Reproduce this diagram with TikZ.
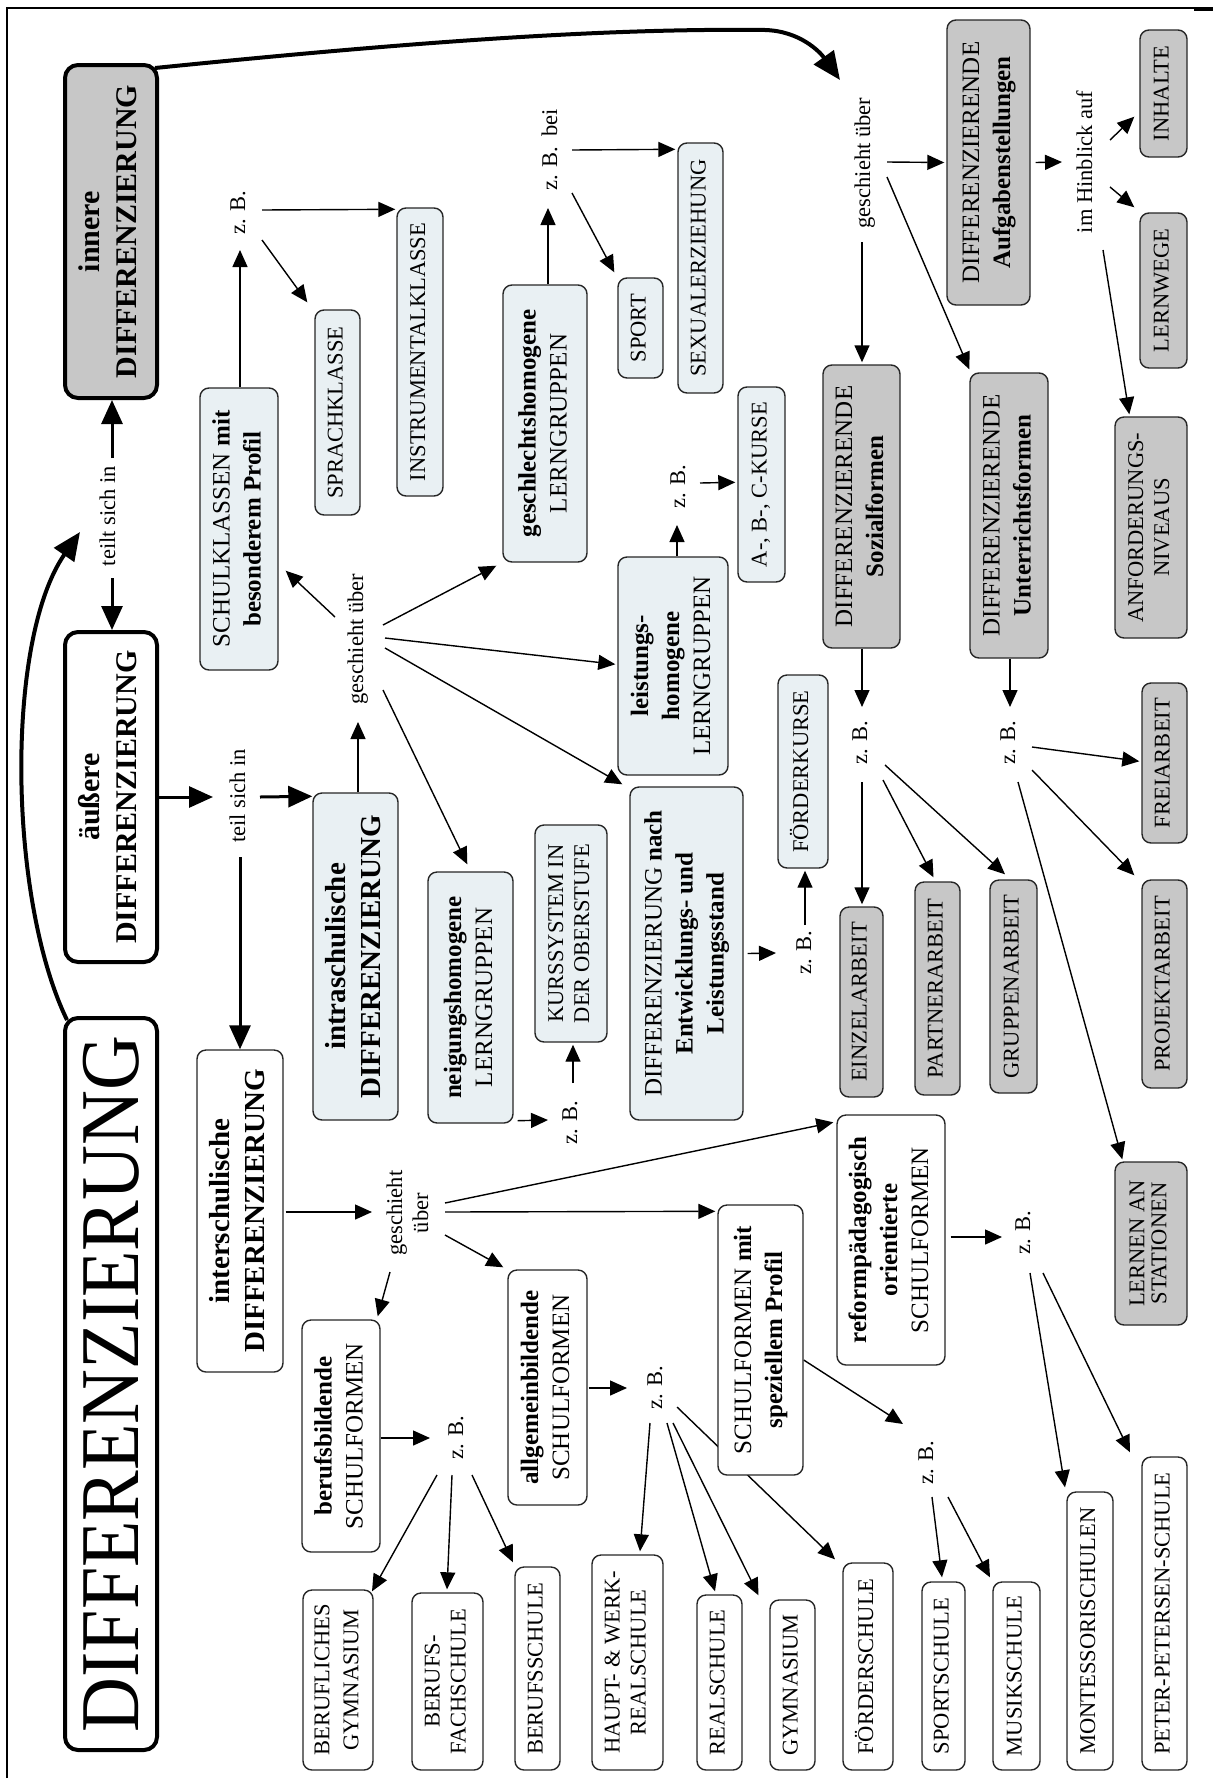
\documentclass[tikz,border=0pt]{standalone}
\usepackage{fontspec}
\setmainfont{Liberation Serif}
\usepackage{graphicx}
\usetikzlibrary{arrows.meta}
\definecolor{boxgray}{RGB}{199,199,199}
\definecolor{boxblue}{RGB}{233,240,243}
% text set upright (reading bottom to top), several centred lines
\newcommand{\uptext}[1]{\rotatebox{90}{\begin{tabular}{@{}c@{}}#1\end{tabular}}}
\pgfdeclarelayer{bg}
\pgfsetlayers{bg,main}

\begin{document}
\begin{tikzpicture}[x=1pt,y=-1pt,
  sz/.style 2 args={minimum width=#1pt,minimum height=#2pt},
  box/.style={draw=black!85, line width=1.4pt, rounded corners=9pt, inner sep=0pt},
  wbox/.style={box, fill=white},
  gbox/.style={box, fill=boxgray},
  bbox/.style={box, fill=boxblue},
  mainbox/.style={draw, line width=4pt, rounded corners=13pt, inner sep=0pt},
  fleaf/.style={font=\fontsize{22.5}{26}\selectfont},
  fmid/.style={font=\fontsize{25}{31}\selectfont},
  fbig/.style={font=\fontsize{29}{35}\selectfont\bfseries},
  fhead/.style={font=\fontsize{30}{37}\selectfont\bfseries},
  lab/.style={inner sep=0pt, font=\fontsize{22.5}{26}\selectfont},
  arr/.style={line width=1.4pt, -{Triangle[length=17pt,width=15pt]}},
  tarr/.style={line width=3pt, -{Triangle[length=24pt,width=21pt]}},
  carr/.style={line width=4pt, -{Triangle[length=28pt,width=24pt]}},
]
\useasboundingbox (0,0) rectangle (1213,1780);

% frame
\draw[line width=1.5pt] (7,1778) -- (7,8) -- (1213,8);
\draw[line width=3pt] (1194,9) -- (1213,9);

% ---------- main column ----------
\node[mainbox, fill=boxgray, sz={92}{333}, fhead] (innere) at (111,231.5) {\uptext{innere\\DIFFERENZIERUNG}};
\node[mainbox, fill=white, sz={92}{330}, fhead] (aeuss) at (111,797) {\uptext{äußere\\DIFFERENZIERUNG}};
\node[mainbox, fill=white, sz={92}{732}, font=\fontsize{76}{80}\selectfont] (dmain) at (111,1384) {\rotatebox{90}{\scalebox{1}[1.1]{DIFFERENZIERUNG}}};

% ---------- intra-school branch ----------
\node[bbox, sz={85}{327}, fbig] (intra) at (355.5,956.5) {\uptext{intraschulische\\DIFFERENZIERUNG}};
\node[bbox, sz={78}{282}, fmid] (sk) at (239,529) {\uptext{SCHULKLASSEN \textbf{mit}\\\textbf{besonderem Profil}}};
\node[bbox, sz={45}{205}, fleaf] (sprach) at (337.5,412.5) {\uptext{SPRACHKLASSE}};
\node[bbox, sz={46}{288}, fleaf] (instr) at (420,352) {\uptext{INSTRUMENTALKLASSE}};
\node[bbox, sz={84}{277}, fmid] (geschl) at (545,423.5) {\uptext{\textbf{geschlechtshomogene}\\LERNGRUPPEN}};
\node[bbox, sz={45}{100}, fleaf] (sport) at (640.5,328) {\uptext{SPORT}};
\node[bbox, sz={45}{250}, fleaf] (sexual) at (700.5,268) {\uptext{SEXUALERZIEHUNG}};
\node[bbox, sz={47}{195}, fleaf] (abc) at (761.5,484.5) {\uptext{A-, B-, C-KURSE}};
\node[bbox, sz={110}{218}, fmid] (leist) at (673,666) {\uptext{\textbf{leistungs-}\\\textbf{homogene}\\LERNGRUPPEN}};
\node[bbox, sz={50}{193}, fleaf] (foerdk) at (803,771.5) {\uptext{FÖRDERKURSE}};
\node[bbox, sz={113}{333}, fmid] (diffnach) at (686.5,953.5) {\uptext{DIFFERENZIERUNG \textbf{nach}\\\textbf{Entwicklungs- und}\\\textbf{Leistungsstand}}};
\node[bbox, sz={72}{217}, fleaf] (kurs) at (571,933.5) {\uptext{KURSSYSTEM IN\\DER OBERSTUFE}};
\node[bbox, sz={85}{251}, fmid] (neig) at (470.5,997.5) {\uptext{\textbf{neigungshomogene}\\LERNGRUPPEN}};

% ---------- inner differentiation ----------
\node[gbox, sz={83}{285}, fmid] (aufg) at (988.5,162.5) {\uptext{DIFFERENZIERENDE\\\textbf{Aufgabenstellungen}}};
\node[gbox, sz={47}{127}, fleaf] (inhalte) at (1163.5,93.5) {\uptext{INHALTE}};
\node[gbox, sz={47}{155}, fleaf] (lernw) at (1163.5,290.5) {\uptext{LERNWEGE}};
\node[gbox, sz={72}{221}, fleaf] (anford) at (1151,527.5) {\uptext{ANFORDERUNGS-\\NIVEAUS}};
\node[gbox, sz={77}{283}, fmid] (soz) at (861.5,506.5) {\uptext{DIFFERENZIERENDE\\\textbf{Sozialformen}}};
\node[gbox, sz={78}{285}, fmid] (unt) at (1009,515.5) {\uptext{DIFFERENZIERENDE\\\textbf{Unterrichtsformen}}};
\node[gbox, sz={45}{160}, fleaf] (frei) at (1164.5,763) {\uptext{FREIARBEIT}};
\node[gbox, sz={43}{190}, fleaf] (einzel) at (861.5,1002) {\uptext{EINZELARBEIT}};
\node[gbox, sz={45}{213}, fleaf] (partner) at (937.5,988.5) {\uptext{PARTNERARBEIT}};
\node[gbox, sz={47}{213}, fleaf] (gruppen) at (1013.5,986.5) {\uptext{GRUPPENARBEIT}};
\node[gbox, sz={45}{208}, fleaf] (projekt) at (1164.5,984) {\uptext{PROJEKTARBEIT}};
\node[gbox, sz={72}{163}, font=\fontsize{22.5}{22}\selectfont] (station) at (1151,1243.5) {\uptext{LERNEN AN\\STATIONEN}};

% ---------- inter-school branch ----------
\node[wbox, sz={86}{322}, fbig] (inter) at (240,1211) {\uptext{interschulische\\DIFFERENZIERUNG}};
\node[wbox, sz={78}{232}, fmid] (berufsb) at (341,1436) {\uptext{\textbf{berufsbildende}\\SCHULFORMEN}};
\node[wbox, sz={79}{235}, fmid] (allg) at (547.5,1387.5) {\uptext{\textbf{allgemeinbildende}\\SCHULFORMEN}};
\node[wbox, sz={85}{270}, fmid] (spez) at (760.5,1340) {\uptext{SCHULFORMEN \textbf{mit}\\\textbf{speziellem Profil}}};
\node[wbox, sz={108}{250}, fmid] (reform) at (891,1240) {\uptext{\textbf{reformpädagogisch}\\\textbf{orientierte}\\SCHULFORMEN}};
\node[wbox, sz={70}{180}, font=\fontsize{22.5}{29}\selectfont] (bgym) at (338,1680) {\uptext{BERUFLICHES\\GYMNASIUM}};
\node[wbox, sz={71}{177}, fleaf] (bfs) at (447.5,1681.5) {\uptext{BERUFS-\\FACHSCHULE}};
\node[wbox, sz={45}{203}, fleaf] (bs) at (537.5,1668.5) {\uptext{BERUFSSCHULE}};
\node[wbox, sz={71}{215}, fleaf] (haupt) at (627.5,1662.5) {\uptext{HAUPT- \& WERK-\\REALSCHULE}};
\node[wbox, sz={45}{175}, fleaf] (real) at (719.5,1682.5) {\uptext{REALSCHULE}};
\node[wbox, sz={45}{170}, fleaf] (gym) at (792.5,1685) {\uptext{GYMNASIUM}};
\node[wbox, sz={50}{207}, fleaf] (foerds) at (868,1666.5) {\uptext{FÖRDERSCHULE}};
\node[wbox, sz={43}{188}, fleaf] (sports) at (943.5,1676) {\uptext{SPORTSCHULE}};
\node[wbox, sz={47}{188}, fleaf] (musik) at (1016.5,1676) {\uptext{MUSIKSCHULE}};
\node[wbox, sz={46}{278}, fleaf] (mont) at (1090,1631) {\uptext{MONTESSORISCHULEN}};
\node[wbox, sz={45}{313}, fleaf] (peter) at (1164.5,1613.5) {\uptext{PETER-PETERSEN-SCHULE}};

% ---------- connector labels ----------
\node[lab] (tsi) at (110,516) {\uptext{teilt sich in}};
\node[lab] (tsi2) at (240,796) {\uptext{teil sich in}};
\node[lab] (gu1) at (865,163) {\uptext{geschieht über}};
\node[lab] (gu2) at (358,639) {\uptext{geschieht über}};
\node[lab] (gu3) at (410,1213) {\uptext{geschieht\\über}};
\node[lab] (ihb) at (1087,162) {\uptext{im Hinblick auf}};
\node[lab] (zbbei) at (552,150) {\uptext{z. B.\hspace{10pt}bei}};
\node[lab] (zb1) at (240,213) {\uptext{z. B.}};
\node[lab] (zb2) at (680,487) {\uptext{z. B.}};
\node[lab] (zb3) at (572,1123) {\uptext{z. B.}};
\node[lab] (zb4) at (806,953) {\uptext{z. B.}};
\node[lab] (zb5) at (862,743) {\uptext{z. B.}};
\node[lab] (zb6) at (1010,743) {\uptext{z. B.}};
\node[lab] (zb7) at (458,1438) {\uptext{z. B.}};
\node[lab] (zb8) at (657,1388) {\uptext{z. B.}};
\node[lab] (zb9) at (928,1463) {\uptext{z. B.}};
\node[lab] (zb10) at (1025,1233) {\uptext{z. B.}};
\coordinate (topbend) at (765,30);

% ---------- connectors (behind the boxes) ----------
\begin{pgfonlayer}{bg}
% sweeping arrows
\draw[carr] ([shift={(4,4)}]dmain.north west) .. controls +(-59,-122) and +(-75,108) .. ([shift={(-30,16)}]tsi.center);
\draw[carr] ([shift={(-4,5)}]innere.north east) .. controls +(247,-25) and +(-165,-2) .. (topbend)
   .. controls +(35,1) and +(-20,-28) .. ([shift={(-25,-83)}]gu1.center);
% division arrows
\draw[tarr] ([shift={(2,-58)}]tsi.center) -- ([shift={(1,0)}]innere.south);
\draw[tarr] ([shift={(2,62)}]tsi.center) -- ([shift={(1,0)}]aeuss.north);
\draw[tarr] (aeuss.east) -- ([shift={(-27,1)}]tsi2.center);
\draw[tarr] ([shift={(20,1)}]tsi2.center) -- ([shift={(0,4)}]intra.north west);
\draw[tarr] ([shift={(0,61)}]tsi2.center) -- (inter.north);
% intra-school
\draw[arr] ([shift={(2.5,0)}]intra.north) -- ([shift={(0,83)}]gu2.center);
\draw[arr] ([shift={(-23,-22)}]gu2.center) -- ([shift={(7,-100)}]sk.south east);
\draw[arr] ([shift={(25,-14)}]gu2.center) -- ([shift={(-6,3)}]geschl.south west);
\draw[arr] ([shift={(27,-1)}]gu2.center) -- ([shift={(-2,108)}]leist.north west);
\draw[arr] ([shift={(27,9)}]gu2.center) -- ([shift={(-7,-2)}]diffnach.north west);
\draw[arr] ([shift={(25,51)}]gu2.center) -- ([shift={(40,-7)}]neig.north west);
\draw[arr] ([shift={(1,0)}]sk.north) -- ([shift={(0,37)}]zb1.center);
\draw[arr] ([shift={(22,-3)}]zb1.center) -- ([shift={(-1,2)}]instr.north west);
\draw[arr] ([shift={(22,27)}]zb1.center) -- ([shift={(-7,-7)}]sprach.north west);
\draw[arr] ([shift={(3,0)}]geschl.north) -- ([shift={(-4,58)}]zbbei.center);
\draw[arr] ([shift={(20,0)}]zbbei.center) -- ([shift={(-2,7)}]sexual.north west);
\draw[arr] ([shift={(20,43)}]zbbei.center) -- ([shift={(-3,-5)}]sport.north west);
\draw[arr] ([shift={(4,0)}]leist.north) -- ([shift={(-3,38)}]zb2.center);
\draw[arr] ([shift={(20,-4)}]zb2.center) -- ([shift={(-2,96)}]abc.north west);
\draw[arr] ([shift={(4,-3)}]neig.south east) -- ([shift={(-24,-3)}]zb3.center);
\draw[arr] ([shift={(1,-40)}]zb3.center) -- ([shift={(2,2)}]kurs.south);
\draw[arr] ([shift={(4,0)}]diffnach.east) -- ([shift={(-30,0)}]zb4.center);
\draw[arr] ([shift={(-1,-28)}]zb4.center) -- ([shift={(2,2)}]foerdk.south);
% inner differentiation
\draw[arr] ([shift={(-3,79)}]gu1.center) -- ([shift={(0.5,-2)}]soz.north);
\draw[arr] ([shift={(22,-1)}]gu1.center) -- ([shift={(-2,0)}]aufg.west);
\draw[arr] ([shift={(22,14)}]gu1.center) -- ([shift={(0,-3)}]unt.north west);
\draw[arr] ([shift={(5,0)}]aufg.east) -- ([shift={(-25,0)}]ihb.center);
\draw[arr] ([shift={(23,-22)}]ihb.center) -- ([shift={(-5,-41)}]inhalte.south west);
\draw[arr] ([shift={(23,25)}]ihb.center) -- ([shift={(-5,-5)}]lernw.north west);
\draw[arr] ([shift={(16,88)}]ihb.center) -- ([shift={(15,-2)}]anford.north west);
\draw[arr] ([shift={(0.5,0)}]soz.south) -- ([shift={(0,-36)}]zb5.center);
\draw[arr] ([shift={(0,39)}]zb5.center) -- ([shift={(0.5,-2)}]einzel.north);
\draw[arr] ([shift={(21,37)}]zb5.center) -- ([shift={(-4,-4)}]partner.north);
\draw[arr] ([shift={(23,22)}]zb5.center) -- ([shift={(-8.5,-5)}]gruppen.north);
\draw[arr] ([shift={(1,0)}]unt.south) -- ([shift={(0,-36)}]zb6.center);
\draw[arr] ([shift={(22,4)}]zb6.center) -- ([shift={(-2,79)}]frei.north west);
\draw[arr] ([shift={(22,27)}]zb6.center) -- ([shift={(-7,-4)}]projekt.north west);
\draw[arr] ([shift={(8,39)}]zb6.center) -- ([shift={(8,-2)}]station.north west);
% inter-school
\draw[arr] ([shift={(2,1)}]inter.east) -- ([shift={(-38,-1)}]gu3.center);
\draw[arr] ([shift={(-20,59)}]gu3.center) -- ([shift={(-3,-3)}]berufsb.north east);
\draw[arr] ([shift={(35,22)}]gu3.center) -- ([shift={(-4,-2)}]allg.north west);
\draw[arr] ([shift={(35,-1)}]gu3.center) -- ([shift={(-2,7)}]spez.north west);
\draw[arr] ([shift={(35,-10)}]gu3.center) -- ([shift={(-3,8)}]reform.north west);
\draw[arr] ([shift={(0,2)}]berufsb.east) -- ([shift={(-28,0)}]zb7.center);
\draw[arr] ([shift={(-21,37)}]zb7.center) -- ([shift={(34,2)}]bgym.north);
\draw[arr] ([shift={(-6,37)}]zb7.center) -- ([shift={(-0.5,-3)}]bfs.north);
\draw[arr] ([shift={(14,37)}]zb7.center) -- ([shift={(-24.5,-4)}]bs.north);
\draw[arr] ([shift={(1,0.5)}]allg.east) -- ([shift={(-30,0)}]zb8.center);
\draw[arr] ([shift={(-7,35)}]zb8.center) -- ([shift={(12.5,-3)}]haupt.north);
\draw[arr] ([shift={(10,35)}]zb8.center) -- ([shift={(-4.5,-3)}]real.north);
\draw[arr] ([shift={(16,35)}]zb8.center) -- ([shift={(-34,-4)}]gym.north);
\draw[arr] ([shift={(20,19)}]zb8.center) -- ([shift={(-33,-3)}]foerds.north);
\draw[arr] ([shift={(0,20)}]spez.east) -- ([shift={(-25,-39)}]zb9.center);
\draw[arr] ([shift={(4,34)}]zb9.center) -- ([shift={(-1.5,-4)}]sports.north);
\draw[arr] ([shift={(20,34)}]zb9.center) -- ([shift={(-26.5,-4)}]musik.north);
\draw[arr] ([shift={(5,-3)}]reform.east) -- ([shift={(-23,4)}]zb10.center);
\draw[arr] ([shift={(5,40)}]zb10.center) -- ([shift={(-25,-4)}]mont.north);
\draw[arr] ([shift={(18,40)}]zb10.center) -- ([shift={(-34.5,-4)}]peter.north);
\end{pgfonlayer}
\end{tikzpicture}
\end{document}
